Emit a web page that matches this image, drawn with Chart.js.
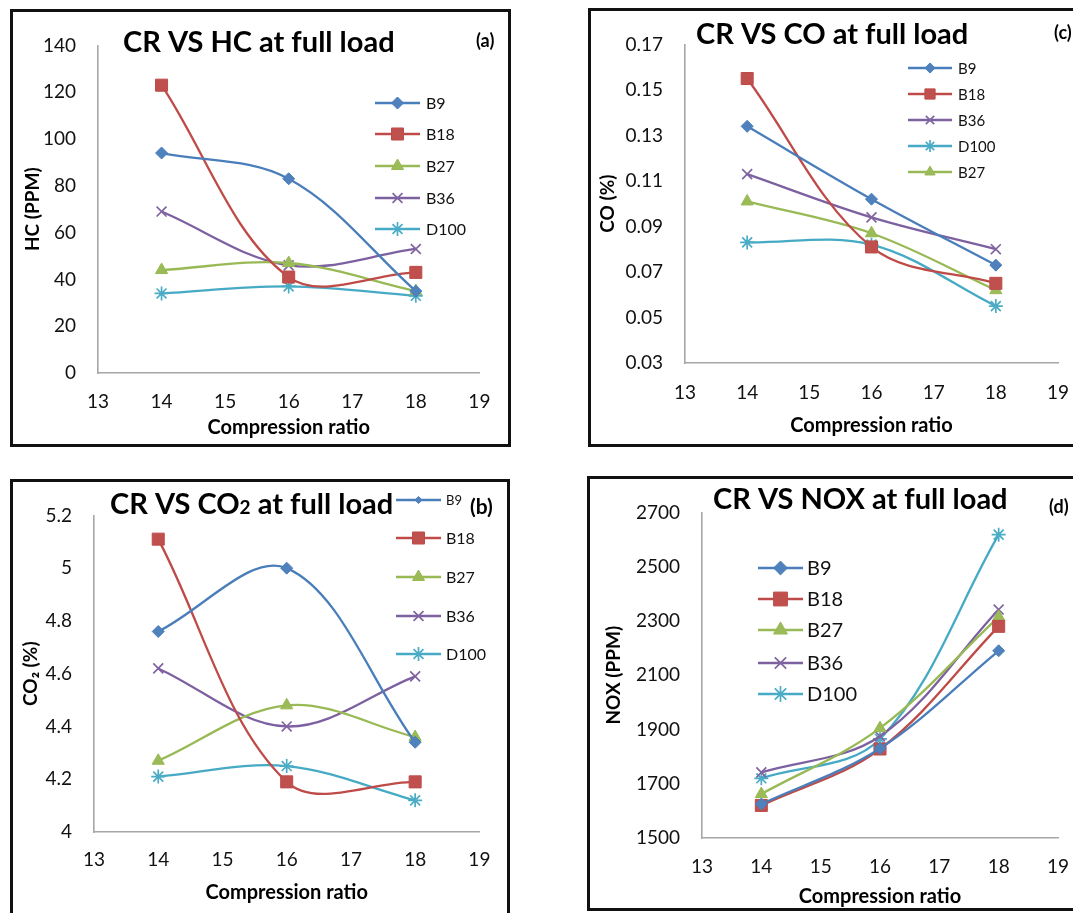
<!DOCTYPE html>
<html>
<head>
<meta charset="utf-8">
<script src="https://cdn.jsdelivr.net/npm/chart.js@4.4.1/dist/chart.umd.min.js"></script>
<style>
  body { margin: 0; width: 1073px; height: 913px; overflow: hidden; background: #fff; position: relative; }
  .panel { position: absolute; border: 3px solid #111; box-sizing: border-box; }
  .panel canvas { position: absolute; left: 0; top: 0; }
</style>
</head>
<body>
<div class="panel" id="pa"><canvas id="ca"></canvas></div>
<div class="panel" id="pc"><canvas id="cc"></canvas></div>
<div class="panel" id="pb"><canvas id="cb"></canvas></div>
<div class="panel" id="pd"><canvas id="cd"></canvas></div>
<script>
// Compression ratio (x values)
const crLevels = [14, 16, 18];

// (a) HC (PPM)
const hcB9   = [94, 83, 35];
const hcB18  = [123, 41, 43];
const hcB27  = [44, 47, 35];
const hcB36  = [69, 46, 53];
const hcD100 = [34, 37, 33];

// (c) CO (%)
const coB9   = [0.134, 0.102, 0.073];
const coB18  = [0.155, 0.081, 0.065];
const coB36  = [0.113, 0.094, 0.080];
const coD100 = [0.083, 0.082, 0.055];
const coB27  = [0.101, 0.087, 0.062];

// (b) CO2 (%)
const co2B9   = [4.76, 5.00, 4.34];
const co2B18  = [5.11, 4.19, 4.19];
const co2B27  = [4.27, 4.48, 4.36];
const co2B36  = [4.62, 4.40, 4.59];
const co2D100 = [4.21, 4.25, 4.12];

// (d) NOX (PPM)
const noxB9   = [1625, 1830, 2190];
const noxB18  = [1620, 1828, 2280];
const noxB27  = [1662, 1905, 2315];
const noxB36  = [1742, 1875, 2342];
const noxD100 = [1720, 1865, 2618];

// look of each blend
const seriesStyle = {
  B9:   { line: '#4A7EBB', fill: '#4F81BD', point: 'rectRot',  r: 6 },
  B18:  { line: '#BE4B48', fill: '#C0504D', point: 'rect',     r: 8.5 },
  B27:  { line: '#98B954', fill: '#9BBB59', point: 'triangle', r: 7 },
  B36:  { line: '#7D60A0', fill: '#8064A2', point: 'crossRot', r: 7 },
  D100: { line: '#46AAC5', fill: '#4BACC6', point: 'star',     r: 7 }
};

function makeDatasets(series) {
  return series.map(([name, vals]) => {
    const s = seriesStyle[name];
    const open = s.point === 'crossRot' || s.point === 'star';
    return {
      label: name,
      data: crLevels.map((x, i) => ({ x: x, y: vals[i] })),
      borderColor: s.line,
      backgroundColor: s.fill,
      borderWidth: 2.3,
      tension: 0.35,
      pointStyle: s.point,
      pointRadius: s.r,
      pointBackgroundColor: s.fill,
      pointBorderColor: open ? s.fill : s.line,
      pointBorderWidth: open ? 1.7 : 1
    };
  });
}

// title, tag and inner legend
const decoPlugin = {
  id: 'deco',
  afterDraw(chart, args, o) {
    const ctx = chart.ctx;
    ctx.save();
    ctx.fillStyle = '#000';
    ctx.textBaseline = 'middle';
    ctx.textAlign = 'left';
    let x = o.titleX - o.ox;
    o.title.forEach(seg => {
      ctx.font = 'bold ' + seg.size + 'px Lato';
      ctx.fillText(seg.t, x, o.titleY - o.oy + (seg.dy || 0));
      x += ctx.measureText(seg.t).width;
    });
    ctx.font = 'bold ' + o.tag.size + 'px Lato';
    ctx.fillText(o.tag.t, o.tag.x - o.ox, o.tag.y - o.oy);

    const lg = o.legend;
    chart.data.datasets.forEach((ds, i) => {
      const y = lg.rows[i] - o.oy;
      const x0 = lg.x0 - o.ox, x1 = lg.x1 - o.ox;
      const small = lg.sizes && lg.sizes[i] < lg.size;
      ctx.strokeStyle = ds.borderColor;
      ctx.lineWidth = 2.3;
      ctx.beginPath();
      ctx.moveTo(x0, y);
      ctx.lineTo(x1, y);
      ctx.stroke();
      if (Chart.helpers && Chart.helpers.drawPoint) {
        ctx.fillStyle = ds.pointBackgroundColor;
        ctx.strokeStyle = ds.pointBorderColor;
        ctx.lineWidth = ds.pointBorderWidth;
        Chart.helpers.drawPoint(ctx, {
          pointStyle: ds.pointStyle,
          radius: ds.pointRadius * lg.mark * (small ? 0.6 : 1),
          rotation: 0,
          borderWidth: ds.pointBorderWidth
        }, (x0 + x1) / 2, y);
      }
      ctx.fillStyle = '#111';
      ctx.font = (lg.sizes ? lg.sizes[i] : lg.size) + 'px Lato';
      ctx.fillText(ds.label, lg.tx - o.ox, y + 1);
    });
    ctx.restore();
  }
};

const panels = [
  {
    div: 'pa', canvas: 'ca',
    box: { l: 10, t: 9, r: 511, b: 447 },
    area: { l: 98, r: 480, t: 43, b: 373 },
    tickY: 402, xTitleY: 428, yTitleX: 33,
    yMin: 0, yMax: 140, yStep: 20, yTitle: 'HC (PPM)',
    title: [{ t: 'CR VS HC at full load', size: 29 }], titleX: 123, titleY: 43,
    tag: { t: '(a)', x: 476, y: 41, size: 18 },
    legend: { x0: 375, x1: 420, tx: 426, rows: [103, 134, 166, 198, 229], size: 16, mark: 1 },
    series: [['B9', hcB9], ['B18', hcB18], ['B27', hcB27], ['B36', hcB36], ['D100', hcD100]]
  },
  {
    div: 'pc', canvas: 'cc',
    box: { l: 588, t: 8, r: 1095, b: 447 },
    area: { l: 685, r: 1058, t: 31, b: 363 },
    tickY: 393, xTitleY: 426, yTitleX: 608,
    yMin: 0.03, yMax: 0.17, yStep: 0.02, yTitle: 'CO (%)',
    title: [{ t: 'CR VS CO at full load', size: 29 }], titleX: 696, titleY: 35,
    tag: { t: '(c)', x: 1054, y: 33, size: 18 },
    legend: { x0: 908, x1: 952, tx: 958, rows: [68, 94, 120, 146, 172], size: 15, mark: 0.85 },
    series: [['B9', coB9], ['B18', coB18], ['B36', coB36], ['D100', coD100], ['B27', coB27]]
  },
  {
    div: 'pb', canvas: 'cb',
    box: { l: 10, t: 479, r: 510, b: 935 },
    area: { l: 94, r: 481, t: 510, b: 832 },
    tickY: 860, xTitleY: 893, yTitleX: 31,
    yMin: 4, yMax: 5.2, yStep: 0.2, yTitle: 'CO₂ (%)',
    title: [{ t: 'CR VS CO', size: 29 }, { t: '2', size: 19, dy: 3 }, { t: ' at full load', size: 29 }], titleX: 110, titleY: 505,
    tag: { t: '(b)', x: 470, y: 507, size: 21 },
    legend: { x0: 396, x1: 441, tx: 446, rows: [500, 538, 577, 616, 654], size: 16, sizes: [13, 16, 16, 16, 16], mark: 1 },
    series: [['B9', co2B9], ['B18', co2B18], ['B27', co2B27], ['B36', co2B36], ['D100', co2D100]]
  },
  {
    div: 'pd', canvas: 'cd',
    box: { l: 587, t: 476, r: 1095, b: 911 },
    area: { l: 702, r: 1058, t: 500, b: 838 },
    tickY: 867, xTitleY: 897, yTitleX: 614,
    yMin: 1500, yMax: 2700, yStep: 200, yTitle: 'NOX (PPM)',
    title: [{ t: 'CR VS NOX at full load', size: 29 }], titleX: 713, titleY: 500,
    tag: { t: '(d)', x: 1049, y: 507, size: 18 },
    legend: { x0: 758, x1: 803, tx: 807, rows: [568, 599, 630, 663, 694], size: 20, mark: 1.15 },
    series: [['B9', noxB9], ['B18', noxB18], ['B27', noxB27], ['B36', noxB36], ['D100', noxD100]]
  }
];

const tickSize = 19, xTitleSize = 20, yTitleSize = 19;

panels.forEach(p => {
  const div = document.getElementById(p.div);
  div.style.left = p.box.l + 'px';
  div.style.top = p.box.t + 'px';
  div.style.width = (p.box.r - p.box.l) + 'px';
  div.style.height = (p.box.b - p.box.t) + 'px';
  const ox = p.box.l + 3, oy = p.box.t + 3;
  const cw = p.box.r - p.box.l - 6, ch = p.box.b - p.box.t - 6;
  const cv = document.getElementById(p.canvas);
  cv.width = cw;
  cv.height = ch;

  new Chart(cv, {
    type: 'line',
    data: { datasets: makeDatasets(p.series) },
    options: {
      responsive: false,
      animation: false,
      devicePixelRatio: 1,
      layout: { padding: { left: 0, top: p.area.t - oy, right: ox + cw - p.area.r, bottom: 0 } },
      plugins: {
        legend: { display: false },
        tooltip: { enabled: false },
        deco: {
          ox: ox, oy: oy, title: p.title, titleX: p.titleX, titleY: p.titleY,
          tag: p.tag, legend: p.legend
        }
      },
      scales: {
        x: {
          type: 'linear', min: 13, max: 19,
          afterFit: s => { s.height = oy + ch - p.area.b; },
          grid: { display: false, drawTicks: false },
          border: { display: true, color: '#a6a6a6', width: 1.6 },
          ticks: {
            stepSize: 1, color: '#111',
            font: { family: 'Lato', size: tickSize },
            padding: p.tickY - p.area.b - tickSize * 0.6,
            maxRotation: 0
          },
          title: {
            display: true, text: 'Compression ratio', color: '#000',
            font: { family: 'Lato', size: xTitleSize, weight: 'bold' },
            padding: { top: 0, bottom: (oy + ch) - p.xTitleY - xTitleSize * 0.6 }
          }
        },
        y: {
          min: p.yMin, max: p.yMax,
          afterFit: s => { s.width = p.area.l - ox; },
          grid: { display: false, drawTicks: false },
          border: { display: true, color: '#a6a6a6', width: 1.6 },
          ticks: {
            stepSize: p.yStep, color: '#111',
            font: { family: 'Lato', size: tickSize },
            padding: 22,
            callback: v => String(v)
          },
          title: {
            display: true, text: p.yTitle, color: '#000',
            font: { family: 'Lato', size: yTitleSize, weight: 'bold' },
            padding: { top: p.yTitleX - ox - yTitleSize * 0.6, bottom: 0 }
          }
        }
      }
    },
    plugins: [decoPlugin]
  });
});
</script>
</body>
</html>
